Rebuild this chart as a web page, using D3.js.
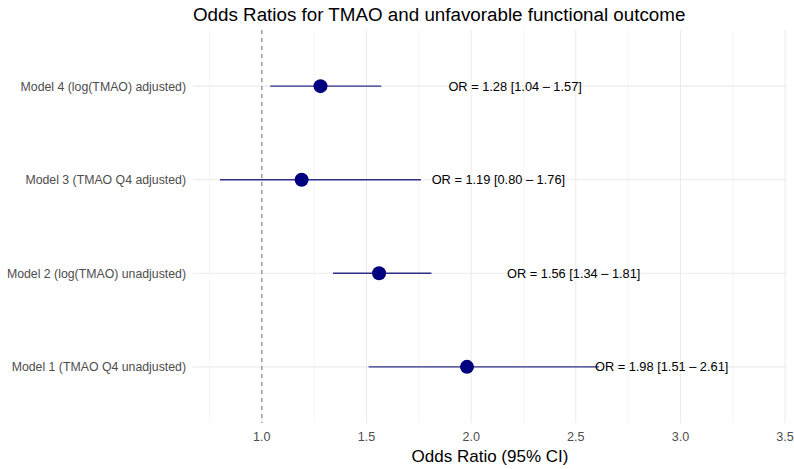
<!DOCTYPE html>
<html>
<head>
<meta charset="utf-8">
<script src="https://cdn.jsdelivr.net/npm/d3@7"></script>
<style>
  body { margin: 0; background: #fff; }
  text { font-family: "Liberation Sans", Arial, sans-serif; }
</style>
</head>
<body>
<div id="chart"></div>
<script>
// données du forest plot
const models = [
  "Model 1 (TMAO Q4 unadjusted)",
  "Model 2 (log(TMAO) unadjusted)",
  "Model 3 (TMAO Q4 adjusted)",
  "Model 4 (log(TMAO) adjusted)"
];
const or = [1.98, 1.56, 1.19, 1.28];
const lower = [1.51, 1.34, 0.80, 1.04];
const upper = [2.61, 1.81, 1.76, 1.57];
const labelPos = [2.91, 2.49, 2.13, 2.21]; // centre du texte OR
const xTicks = [1.0, 1.5, 2.0, 2.5, 3.0, 3.5];
const xMinor = [0.75, 1.25, 1.75, 2.25, 2.75, 3.25];
const xExtent = [0.80, 3.38];

const width = 794, height = 469;
const margin = { top: 30, right: 7, bottom: 46, left: 193 };

const svg = d3.select("#chart").append("svg")
  .attr("width", width).attr("height", height);

const span = xExtent[1] - xExtent[0];
const x = d3.scaleLinear()
  .domain([xExtent[0] - 0.05 * span, xExtent[1] + 0.05 * span])
  .range([margin.left, width - margin.right]);

const y = d3.scalePoint()
  .domain(models.slice().reverse())
  .range([margin.top, height - margin.bottom])
  .padding(0.6);

const yTop = margin.top, yBottom = height - margin.bottom;

// grille
svg.append("g").selectAll("line").data(xMinor).join("line")
  .attr("x1", d => x(d)).attr("x2", d => x(d))
  .attr("y1", yTop).attr("y2", yBottom)
  .attr("stroke", "#f0f0f0").attr("stroke-width", 0.6);
svg.append("g").selectAll("line").data(xTicks).join("line")
  .attr("x1", d => x(d)).attr("x2", d => x(d))
  .attr("y1", yTop).attr("y2", yBottom)
  .attr("stroke", "#ebebeb").attr("stroke-width", 1.1);
svg.append("g").selectAll("line").data(models).join("line")
  .attr("x1", margin.left).attr("x2", width - margin.right)
  .attr("y1", d => y(d)).attr("y2", d => y(d))
  .attr("stroke", "#ebebeb").attr("stroke-width", 1.1);

// ligne de référence OR = 1
svg.append("line")
  .attr("x1", x(1)).attr("x2", x(1))
  .attr("y1", yTop).attr("y2", yBottom)
  .attr("stroke", "#7f7f7f").attr("stroke-width", 1.1)
  .attr("stroke-dasharray", "4,4");

const rows = models.map((m, i) => ({ m, or: or[i], lo: lower[i], hi: upper[i], lab: labelPos[i] }));

// intervalles de confiance
svg.append("g").selectAll("line").data(rows).join("line")
  .attr("x1", d => x(d.lo)).attr("x2", d => x(d.hi))
  .attr("y1", d => y(d.m)).attr("y2", d => y(d.m))
  .attr("stroke", "#2e2e85").attr("stroke-width", 1.4);

// points
svg.append("g").selectAll("circle").data(rows).join("circle")
  .attr("cx", d => x(d.or)).attr("cy", d => y(d.m))
  .attr("r", 7).attr("fill", "#00007f");

// textes OR
const f = d3.format(".2f");
svg.append("g").selectAll("text").data(rows).join("text")
  .attr("x", d => x(d.lab)).attr("y", d => y(d.m) + 4.5)
  .attr("text-anchor", "middle")
  .attr("font-size", 12.8).attr("fill", "#000")
  .text(d => `OR = ${f(d.or)} [${f(d.lo)} – ${f(d.hi)}]`);

// étiquettes y
svg.append("g").selectAll("text").data(models).join("text")
  .attr("x", margin.left - 7).attr("y", d => y(d) + 4.5)
  .attr("text-anchor", "end")
  .attr("font-size", 12.3).attr("fill", "#4d4d4d")
  .text(d => d);

// étiquettes x
svg.append("g").selectAll("text").data(xTicks).join("text")
  .attr("x", d => x(d)).attr("y", yBottom + 18)
  .attr("text-anchor", "middle")
  .attr("font-size", 12.6).attr("fill", "#4d4d4d")
  .text(d => d3.format(".1f")(d));

// titre axe x
svg.append("text")
  .attr("x", (margin.left + width - margin.right) / 2).attr("y", yBottom + 39)
  .attr("text-anchor", "middle")
  .attr("font-size", 17).attr("fill", "#000")
  .text("Odds Ratio (95% CI)");

// titre
svg.append("text")
  .attr("x", margin.left).attr("y", 21)
  .attr("font-size", 18.8).attr("fill", "#000")
  .text("Odds Ratios for TMAO and unfavorable functional outcome");
</script>
</body>
</html>
